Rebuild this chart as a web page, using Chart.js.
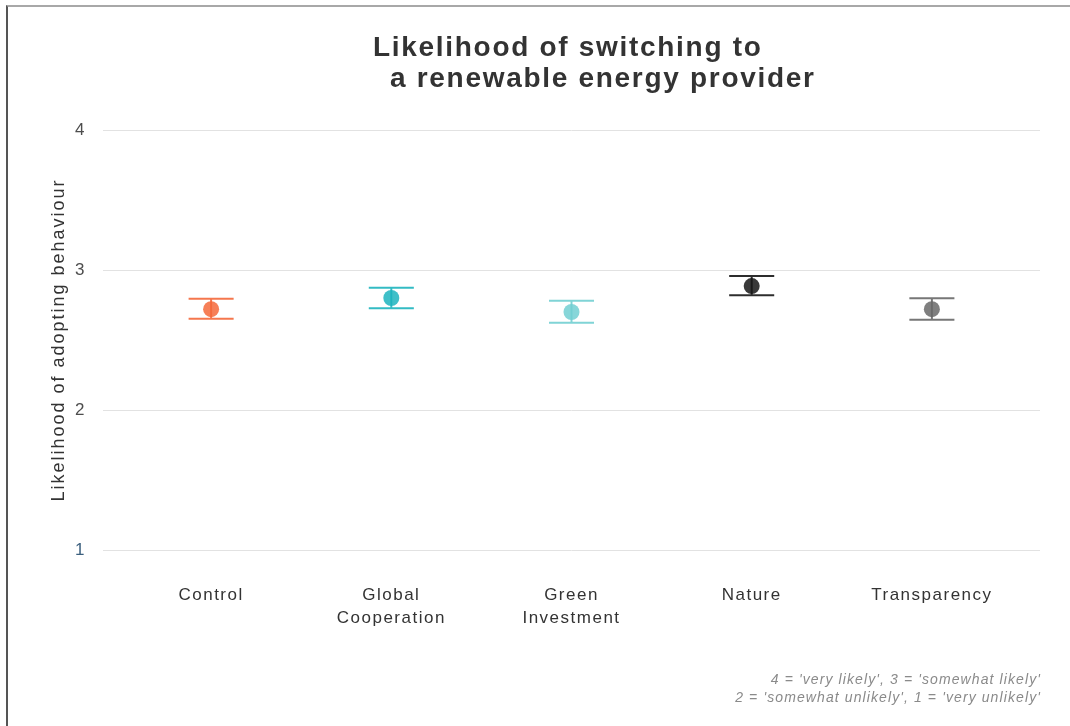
<!DOCTYPE html>
<html lang="en">
<head>
<meta charset="UTF-8">
<title>Likelihood of switching</title>
<style>
    html, body { margin: 0; padding: 0; background: #fff; }
    .frame {
        position: absolute; left: 6px; top: 5px; width: 1064px; height: 721px;
        border-left: 2px solid #555; border-top: 2px solid #a8a8a8;
    }
    #wrap { position: absolute; left: 0; top: 0; width: 1070px; height: 726px; }
</style>
</head>
<body>
<div class="frame"></div>
<div id="wrap"><canvas id="chart" width="1070" height="726"></canvas></div>

<script src="https://cdn.jsdelivr.net/npm/chart.js"></script>
<script>
    // conditions and their mean ratings with lower/upper error bounds
    const conditions = [['Control'], ['Global', 'Cooperation'], ['Green', 'Investment'], ['Nature'], ['Transparency']];
    const means = [2.72, 2.80, 2.70, 2.885, 2.72];
    const lower = [2.652, 2.726, 2.624, 2.819, 2.645];
    const upper = [2.795, 2.874, 2.781, 2.957, 2.798];
    const colours = ['#f4683a', '#1db4be', '#72cfd2', '#161616', '#686868'];
    const yTicks = [1, 2, 3, 4];

    const titleLines = ['Likelihood of switching to', 'a renewable energy provider'];
    const yTitle = 'Likelihood of adopting behaviour';
    const captionLines = ["4 = 'very likely', 3 = 'somewhat likely'", "2 = 'somewhat unlikely', 1 = 'very unlikely'"];

    const FONT = '"Liberation Sans", Arial, sans-serif';

    function withAlpha(hex, a) {
        const n = parseInt(hex.slice(1), 16);
        return `rgba(${n >> 16}, ${(n >> 8) & 255}, ${n & 255}, ${a})`;
    }

    // wider tracking for the axis tick labels
    const tracking = {
        id: 'tracking',
        beforeUpdate(chart) { chart.ctx.letterSpacing = '1.5px'; },
        beforeDraw(chart) { chart.ctx.letterSpacing = '1.5px'; }
    };

    // error bars with caps, drawn under the points
    const errorBars = {
        id: 'errorBars',
        beforeDatasetsDraw(chart) {
            const { ctx, scales: { x, y } } = chart;
            ctx.save();
            ctx.lineWidth = 2;
            means.forEach((m, i) => {
                const cx = x.getPixelForValue(i + 1);
                const l = x.getPixelForValue(i + 1 - 0.125);
                const r = x.getPixelForValue(i + 1 + 0.125);
                const top = y.getPixelForValue(upper[i]);
                const bot = y.getPixelForValue(lower[i]);
                ctx.strokeStyle = withAlpha(colours[i], 0.9);
                ctx.beginPath();
                ctx.moveTo(l, top); ctx.lineTo(r, top);
                ctx.moveTo(l, bot); ctx.lineTo(r, bot);
                ctx.moveTo(cx, top); ctx.lineTo(cx, bot);
                ctx.stroke();
            });
            ctx.restore();
        }
    };

    // title, rotated y-axis title and caption
    const texts = {
        id: 'texts',
        afterDraw(chart) {
            const { ctx, chartArea } = chart;
            ctx.save();
            ctx.fillStyle = '#333';
            ctx.letterSpacing = '1.7px';
            ctx.font = `bold 28px ${FONT}`;
            ctx.textBaseline = 'alphabetic';
            ctx.textAlign = 'left';
            ctx.fillText(titleLines[0], 373, 56);
            ctx.fillText(titleLines[1], 390, 87);

            ctx.letterSpacing = '2px';
            ctx.font = `18px ${FONT}`;
            ctx.textAlign = 'center';
            ctx.textBaseline = 'middle';
            ctx.translate(59, (chartArea.top + chartArea.bottom) / 2);
            ctx.rotate(-Math.PI / 2);
            ctx.fillText(yTitle, 0, 0);
            ctx.restore();

            ctx.save();
            ctx.fillStyle = '#8a8a8a';
            ctx.letterSpacing = '1.1px';
            ctx.font = `italic 14px ${FONT}`;
            ctx.textAlign = 'right';
            ctx.textBaseline = 'middle';
            ctx.fillText(captionLines[0], chartArea.right + 1, 680);
            ctx.fillText(captionLines[1], chartArea.right + 1, 698);
            ctx.restore();
        }
    };

    new Chart(document.getElementById('chart'), {
        type: 'scatter',
        data: {
            datasets: [{
                data: means.map((m, i) => ({ x: i + 1, y: m })),
                pointRadius: 8,
                pointHoverRadius: 8,
                pointBorderWidth: 0,
                pointBackgroundColor: colours.map(c => withAlpha(c, 0.85))
            }]
        },
        options: {
            responsive: false,
            animation: false,
            layout: { padding: { left: 0, right: 30, top: 130, bottom: 0 } },
            plugins: { legend: { display: false }, tooltip: { enabled: false } },
            scales: {
                x: {
                    type: 'linear',
                    min: 0.4,
                    max: 5.6,
                    afterBuildTicks: s => { s.ticks = conditions.map((c, i) => ({ value: i + 1 })); },
                    afterFit: s => { s.height = 176; },
                    grid: { display: false, drawTicks: false },
                    border: { display: false },
                    ticks: {
                        autoSkip: false,
                        maxRotation: 0,
                        padding: 34,
                        color: '#333',
                        font: { size: 17, family: FONT, lineHeight: 1.35 },
                        callback: v => conditions[v - 1]
                    }
                },
                y: {
                    min: 1,
                    max: 4,
                    afterBuildTicks: s => { s.ticks = yTicks.map(v => ({ value: v })); },
                    afterFit: s => { s.width = 103; },
                    grid: { color: '#e2e2e2', lineWidth: 1, drawTicks: false },
                    border: { display: false },
                    ticks: {
                        padding: 17,
                        color: ctx => ctx.tick.value === 1 ? '#3b5f7e' : '#4d4d4d',
                        font: { size: 17, family: FONT }
                    }
                }
            }
        },
        plugins: [tracking, errorBars, texts]
    });
</script>
</body>
</html>
